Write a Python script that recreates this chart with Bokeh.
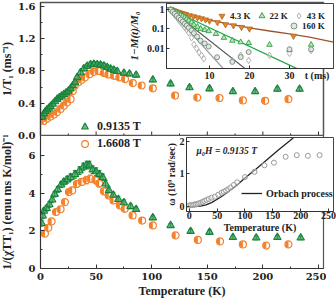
import math
from bokeh.plotting import figure
from bokeh.models import (ColumnDataSource, Range1d, FixedTicker, Whisker, TeeHead,
                          Legend, LegendItem, Label, CustomJSTickFormatter, NumeralTickFormatter)
from bokeh.layouts import column
from bokeh.embed import file_html
from bokeh.resources import INLINE

# ---------------- data: main panels ----------------
temp_top_a = [1.5, 3, 4.5, 6, 7.5, 9, 11, 13, 15, 17, 19, 21, 23, 25, 27, 29, 31, 33, 36, 39, 42,
              45, 48, 51, 54, 57, 60, 63, 66, 69, 75, 80, 86, 101, 117, 134, 152, 173, 193, 213, 233]
rate_top_a = [0.23, 0.27, 0.30, 0.32, 0.34, 0.36, 0.39, 0.42, 0.45, 0.47, 0.49, 0.51, 0.53, 0.55,
              0.58, 0.62, 0.66, 0.72, 0.78, 0.83, 0.86, 0.88, 0.885, 0.88, 0.875, 0.865, 0.845,
              0.825, 0.81, 0.795, 0.775, 0.765, 0.75, 0.69, 0.64, 0.595, 0.58, 0.545, 0.545, 0.575, 0.575]
err_top_a = [0.02, 0.02, 0.02, 0.02, 0.02, 0.02, 0.02, 0.02, 0.02, 0.02, 0.02, 0.02, 0.02, 0.02,
             0.025, 0.025, 0.025, 0.025, 0.03, 0.03, 0.03, 0.03, 0.03, 0.03, 0.03, 0.03, 0.03,
             0.03, 0.03, 0.03, 0.025, 0.025, 0.025, 0.025, 0.025, 0.025, 0.025, 0.025, 0.025, 0.025, 0.025]

temp_top_b = [3, 6, 9, 12, 15, 18, 21, 24, 27, 29, 31, 34, 37, 40, 44, 48, 52, 57, 61, 66, 71, 76,
              83, 91, 101, 121, 141, 161, 182, 202, 223]
rate_top_b = [0.18, 0.21, 0.235, 0.26, 0.29, 0.33, 0.37, 0.41, 0.45, 0.55, 0.62, 0.66, 0.69, 0.72,
              0.76, 0.79, 0.80, 0.775, 0.755, 0.74, 0.72, 0.70, 0.65, 0.62, 0.585, 0.495, 0.47,
              0.465, 0.435, 0.43, 0.45]
err_top_b = [0.015, 0.015, 0.015, 0.015, 0.015, 0.02, 0.02, 0.02, 0.02, 0.02, 0.02, 0.02, 0.02,
             0.02, 0.02, 0.02, 0.02, 0.02, 0.02, 0.02, 0.02, 0.02, 0.02, 0.02, 0.02, 0.02, 0.02,
             0.02, 0.02, 0.02, 0.02]

temp_bot_a = [1.0, 2.0, 3.0, 5.5, 8, 10.5, 12.7, 15.5, 18.5, 21, 24, 27, 31, 35, 38.5, 41.5, 44,
              47, 50, 53, 56, 58.5, 61.5, 65.5, 70, 75, 81, 86, 101, 117, 135, 152, 173, 194, 213, 234]
chi_bot_a = [2.4, 2.8, 3.05, 3.2, 3.4, 3.65, 3.95, 4.2, 4.45, 4.6, 4.72, 4.85, 5.0, 5.2, 5.4, 5.5,
             5.5, 5.25, 5.15, 5.0, 4.85, 4.5, 4.15, 3.9, 3.68, 3.5, 3.3, 3.15, 2.7, 2.29, 1.98,
             1.93, 1.66, 1.63, 1.66, 1.63]
err_bot_a = [0.15, 0.15, 0.15, 0.15, 0.15, 0.15, 0.15, 0.15, 0.15, 0.15, 0.18, 0.18, 0.2, 0.2,
             0.2, 0.2, 0.2, 0.2, 0.2, 0.2, 0.18, 0.18, 0.18, 0.15, 0.15, 0.15, 0.12, 0.12, 0.1,
             0.1, 0.1, 0.1, 0.1, 0.1, 0.1, 0.1]

temp_bot_b = [4, 7, 10, 14, 18, 22, 25.6, 28.5, 32.8, 37, 41.4, 44.8, 49.4, 52.8, 57, 61.4, 65.7,
              71.4, 75.7, 82.8, 91.4, 101, 121.5, 141.5, 161.5, 182, 203, 223]
chi_bot_b = [1.85, 2.16, 2.5, 3.0, 3.15, 3.53, 4.06, 4.15, 4.5, 4.6, 4.7, 4.77, 4.7, 4.52, 4.1,
             3.88, 3.62, 3.35, 3.17, 2.82, 2.55, 2.29, 1.76, 1.52, 1.44, 1.28, 1.22, 1.28]
err_bot_b = [0.12, 0.12, 0.12, 0.12, 0.12, 0.15, 0.15, 0.15, 0.18, 0.18, 0.2, 0.2, 0.2, 0.2,
             0.18, 0.15, 0.15, 0.15, 0.12, 0.12, 0.1, 0.1, 0.08, 0.08, 0.08, 0.08, 0.08, 0.08]

series_labels = ["0.9135 T", "1.6608 T"]

x_ticks = [0, 50, 100, 150, 200, 250]
x_minor = [25, 75, 125, 175, 225]
top_ticks = [0.0, 0.4, 0.8, 1.2, 1.6]
top_minor = [0.2, 0.6, 1.0, 1.4]
bot_ticks = [0, 2, 4, 6]
bot_minor = [1, 3, 5]

# ---------------- data: inset 1 (recovery curves) ----------------
t_43 = [0.2, 0.6, 1.0, 1.5, 2.0, 2.5, 3.0, 3.5, 4.0, 5.0, 6.0, 7.0, 8.0, 9.0, 10.0, 12.0, 14.0,
        16.0, 18.0, 20.0, 31.0]
m_43 = [0.98, 0.91, 0.84, 0.78, 0.71, 0.66, 0.61, 0.57, 0.54, 0.47, 0.42, 0.37, 0.33, 0.29, 0.25,
        0.21, 0.165, 0.145, 0.12, 0.1, 0.043]
fit_t_43 = [0, 2, 5, 10, 15, 20, 25, 30, 35, 41]
fit_m_43 = [1.0, 0.7, 0.47, 0.27, 0.17, 0.11, 0.077, 0.055, 0.038, 0.021]

t_22 = [0.3, 0.8, 1.3, 1.8, 2.3, 2.8, 3.3, 3.8, 4.3, 4.8, 5.5, 6.1, 7.0, 7.8, 8.8, 9.8, 11.6,
        13.6, 15.7, 17.8, 19.8, 25, 30, 35.4]
m_22 = [0.95, 0.85, 0.74, 0.66, 0.575, 0.5, 0.44, 0.38, 0.32, 0.26, 0.21, 0.16, 0.126, 0.1,
        0.087, 0.076, 0.055, 0.035, 0.025, 0.021, 0.019, 0.0155, 0.0085, 0.0155]
fit_t_22 = [0, 32]
fit_m_22 = [1.0, 0.00093]

t_43k = [0.3, 0.8, 1.3, 1.8, 2.3, 2.8, 3.3, 3.8, 4.3, 4.8, 5.5, 6.1, 6.8, 7.4, 8.0, 8.6, 15.7,
         17.8, 19.8, 25, 30, 35.4]
m_43k = [0.89, 0.66, 0.5, 0.38, 0.28, 0.21, 0.16, 0.117, 0.089, 0.063, 0.035, 0.016, 0.01,
         0.0063, 0.0045, 0.003, 0.0024, 0.0045, 0.0025, 0.0045, 0.0056, 0.0079]
fit_t_43k = [0, 13.5]
fit_m_43k = [1.0, 0.00093]

t_160 = [0.3, 0.8, 1.3, 1.8, 2.3, 2.8, 3.3, 3.8, 4.3, 4.8, 5.5, 6.1, 6.9, 7.75, 8.8, 9.8, 11.9,
         15.7, 17.8, 19.8, 30, 35.4]
m_160 = [0.91, 0.72, 0.575, 0.46, 0.36, 0.29, 0.23, 0.18, 0.145, 0.112, 0.083, 0.06, 0.04,
         0.025, 0.018, 0.0126, 0.0036, 0.0021, 0.0037, 0.0066, 0.0091, 0.0091]
fit_t_160 = [0, 19]
fit_m_160 = [1.0, 0.00093]

inset1_labels = ["4.3 K", "22 K", "43 K", "160 K"]
inset1_xticks = [10, 20, 30]
inset1_xlabel_pos = [36.9]   # where the "t (ms)" axis title sits in the tick-label row
inset1_yticks = [0.01, 0.1, 1]

# ---------------- data: inset 2 (omega vs T) ----------------
temp_w = [0, 3, 6, 9, 12, 15, 18, 21, 24, 27, 31, 35, 40, 46, 52, 58, 62, 66, 70, 74, 80, 86,
          100, 117, 135, 152, 173, 193, 213, 234]
omega_w = [0.03, 0.04, 0.05, 0.06, 0.07, 0.08, 0.10, 0.12, 0.14, 0.17, 0.20, 0.23, 0.27, 0.30,
           0.36, 0.42, 0.45, 0.49, 0.53, 0.58, 0.66, 0.74, 0.90, 1.06, 1.26, 1.34, 1.52, 1.57,
           1.55, 1.57]
temp_orb = [0, 10, 20, 30, 40, 50, 60, 70, 80, 90, 100, 120, 140, 160, 180, 187]
omega_orb = [0.0, 0.0, 0.01, 0.05, 0.12, 0.22, 0.33, 0.45, 0.58, 0.72, 0.87, 1.15, 1.44, 1.73,
             2.0, 2.1]
inset2_xticks = [0, 50, 100, 150, 200, 250]
inset2_yticks = [0, 1, 2]

# ---------------- style ----------------
SERIF = "Liberation Serif"
TICKF = "DejaVu Serif"
DARK = "#222222"
AXC = "#333333"
G_LINE = "#17833a"
G_FILL = "#2f9a52"
O_COL = "#f3802a"


def style_axis(ax, font, size, standoff, tin=4, mtin=2):
    ax.axis_line_color = AXC
    ax.major_tick_line_color = AXC
    ax.minor_tick_line_color = AXC
    ax.major_tick_in = tin
    ax.major_tick_out = 0
    ax.minor_tick_in = mtin
    ax.minor_tick_out = 0
    ax.major_label_text_font = font
    ax.major_label_text_font_style = "bold"
    ax.major_label_text_font_size = size
    ax.major_label_text_color = DARK
    ax.major_label_standoff = standoff
    ax.axis_label_text_font = SERIF
    ax.axis_label_text_font_style = "bold"
    ax.axis_label_text_color = DARK


def base_fig(w, h, xr, yr, l, r, t, b, **kw):
    p = figure(width=w, height=h, x_range=xr, y_range=yr, output_backend="svg",
               toolbar_location=None, min_border_left=l, min_border_right=r,
               min_border_top=t, min_border_bottom=b, **kw)
    p.xgrid.grid_line_color = None
    p.ygrid.grid_line_color = None
    return p


xr = Range1d(0, 254.5)

# ---------------- top panel ----------------
# canvas at left=-10, so frame spans x 38..335 ; frame y 2..135
p1 = base_fig(346, 147, xr, Range1d(0, 1.649), 48, 1, 2, 12)
p1.border_fill_color = None
p1.outline_line_color = "#555555"
p1.outline_line_width = 1.5
p1.xaxis.visible = False
style_axis(p1.yaxis[0], TICKF, "10px", 5)
p1.yaxis.ticker = FixedTicker(ticks=top_ticks, minor_ticks=top_minor)
p1.yaxis.formatter = NumeralTickFormatter(format="0.0")
p1.yaxis.axis_label = "1/T\u2081 (ms\u207b\u00b9)"
p1.yaxis.axis_label_text_font_size = "12px"
p1.yaxis.axis_label_standoff = 1

# inward tick marks on the shared boundary between the two panels
p1.segment(x0=x_ticks, y0=[0] * len(x_ticks), x1=x_ticks, y1=[0.05] * len(x_ticks),
           line_color=AXC, line_width=1)
p1.segment(x0=x_minor, y0=[0] * len(x_minor), x1=x_minor, y1=[0.026] * len(x_minor),
           line_color=AXC, line_width=1)

sa = ColumnDataSource(dict(T=temp_top_a, v=rate_top_a,
                           hi=[v + e for v, e in zip(rate_top_a, err_top_a)],
                           lo=[v - e for v, e in zip(rate_top_a, err_top_a)]))
sb = ColumnDataSource(dict(T=temp_top_b, v=rate_top_b,
                           hi=[v + e for v, e in zip(rate_top_b, err_top_b)],
                           lo=[v - e for v, e in zip(rate_top_b, err_top_b)]))


def draw_series(p, src_a, src_b):
    p.add_layout(Whisker(source=src_b, base="T", upper="hi", lower="lo", line_color=O_COL,
                         line_width=1,
                         upper_head=TeeHead(size=4, line_color=O_COL, line_width=1),
                         lower_head=TeeHead(size=4, line_color=O_COL, line_width=1)))
    p.add_layout(Whisker(source=src_a, base="T", upper="hi", lower="lo", line_color=G_LINE,
                         line_width=1,
                         upper_head=TeeHead(size=4, line_color=G_LINE, line_width=1),
                         lower_head=TeeHead(size=4, line_color=G_LINE, line_width=1)))
    rb_open = p.scatter(x="T", y="v", source=src_b, marker="circle", size=7,
                        fill_color="white", line_color=O_COL, line_width=1.2)
    p.wedge(x="T", y="v", source=src_b, radius=3.2, radius_units="screen",
            start_angle=math.pi / 2, end_angle=3 * math.pi / 2,
            fill_color=O_COL, line_color=None)
    ra = p.scatter(x="T", y="v", source=src_a, marker="triangle", size=7.5,
                   fill_color=G_FILL, fill_alpha=0.7, line_color=G_LINE, line_width=1.1)
    return ra, rb_open


ra1, rb1 = draw_series(p1, sa, sb)
leg1 = Legend(items=[LegendItem(label=series_labels[0], renderers=[ra1])],
              location=(36, 0), padding=0, margin=0, spacing=0, glyph_width=17,
              glyph_height=17, label_standoff=4, label_height=12,
              border_line_color=None, background_fill_alpha=0,
              label_text_font=SERIF, label_text_font_style="bold",
              label_text_font_size="12px", label_text_color=DARK)
p1.add_layout(leg1)

# ---------------- bottom panel ----------------
# canvas at left=-10, top=135 ; frame spans y 135..268
p2 = base_fig(346, 173, xr, Range1d(0, 7.07), 48, 1, 0, 40)
p2.border_fill_color = None
p2.outline_line_color = "#555555"
p2.outline_line_width = 1.2
style_axis(p2.xaxis[0], TICKF, "10px", 4)
p2.xaxis.ticker = FixedTicker(ticks=x_ticks, minor_ticks=x_minor)
p2.xaxis.axis_label = "Temperature (K)"
p2.xaxis.axis_label_text_font_size = "12px"
p2.xaxis.axis_label_standoff = 1
style_axis(p2.yaxis[0], TICKF, "10px", 5)
p2.yaxis.ticker = FixedTicker(ticks=bot_ticks, minor_ticks=bot_minor)
p2.yaxis.axis_label = "1/(\u03c7TT\u2081) (emu ms K/mol)\u207b\u00b9"
p2.yaxis.axis_label_text_font_size = "12px"
p2.yaxis.axis_label_standoff = 12

sc = ColumnDataSource(dict(T=temp_bot_a, v=chi_bot_a,
                           hi=[v + e for v, e in zip(chi_bot_a, err_bot_a)],
                           lo=[v - e for v, e in zip(chi_bot_a, err_bot_a)]))
sd = ColumnDataSource(dict(T=temp_bot_b, v=chi_bot_b,
                           hi=[v + e for v, e in zip(chi_bot_b, err_bot_b)],
                           lo=[v - e for v, e in zip(chi_bot_b, err_bot_b)]))
ra2, rb2 = draw_series(p2, sc, sd)
leg2 = Legend(items=[LegendItem(label=series_labels[1], renderers=[rb2])],
              location=(36, 116), padding=0, margin=0, spacing=0, glyph_width=17,
              glyph_height=17, label_standoff=4, label_height=12,
              border_line_color=None, background_fill_alpha=0,
              label_text_font=SERIF, label_text_font_style="bold",
              label_text_font_size="12px", label_text_color=DARK)
p2.add_layout(leg2)

# ---------------- inset 1 ----------------
# canvas at left=116, top=0 ; frame x 166..333, y 3..68
ins1 = base_fig(220, 88, Range1d(-0.75, 41.0), Range1d(0.00097, 1.9), 50, 3, 3, 20,
                y_axis_type="log")
ins1.border_fill_color = None
ins1.background_fill_color = "white"
ins1.outline_line_color = "#444444"
style_axis(ins1.xaxis[0], SERIF, "10px", 1, tin=0, mtin=3)
ins1.xaxis.ticker = FixedTicker(ticks=inset1_xticks + inset1_xlabel_pos, minor_ticks=inset1_xticks)
ins1.xaxis.formatter = CustomJSTickFormatter(code="return tick > 35 ? 't (ms)' : String(tick);")
style_axis(ins1.yaxis[0], SERIF, "10px", 2, tin=3)
ins1.yaxis.ticker = FixedTicker(ticks=inset1_yticks)
ins1.yaxis.formatter = CustomJSTickFormatter(code="return String(tick);")
ins1.yaxis.axis_label = "1\u2212M(t)/M\u2080"
ins1.yaxis.axis_label_text_font_size = "11px"
ins1.yaxis.axis_label_text_font_style = "bold italic"
ins1.yaxis.axis_label_standoff = 4

ins1.line(fit_t_43, fit_m_43, line_color="#a0522d", line_width=1.3)
ins1.line(fit_t_22, fit_m_22, line_color="#1fa84a", line_width=1.3)
ins1.line(fit_t_43k, fit_m_43k, line_color="#9a9a9a", line_width=1.2)
ins1.line(fit_t_160, fit_m_160, line_color="#555555", line_width=1.2)
r43 = ins1.scatter(t_43, m_43, marker="inverted_triangle", size=6, fill_color="#e08a30",
                   line_color="#b8651f", line_width=0.8)
r22 = ins1.scatter(t_22, m_22, marker="triangle", size=5.5, fill_color="#b8e6b8",
                   line_color="#2ea043", line_width=0.9)
r43k = ins1.scatter(t_43k, m_43k, marker="diamond", size=6.5, fill_color="white",
                    fill_alpha=0.3, line_color="#a8a8a8", line_width=0.9)
r160 = ins1.scatter(t_160, m_160, marker="circle", size=5, fill_color="#dfe8df",
                    line_color="#74887a", line_width=0.9)

leg_kw = dict(padding=0, margin=0, spacing=3, glyph_width=15, glyph_height=15,
              label_standoff=1, label_height=10, label_width=10, border_line_color=None,
              background_fill_alpha=0, label_text_font=SERIF, label_text_font_style="bold",
              label_text_font_size="9px", label_text_color=DARK, orientation="horizontal")
legA = Legend(items=[LegendItem(label=inset1_labels[0], renderers=[r43]),
                     LegendItem(label=inset1_labels[1], renderers=[r22]),
                     LegendItem(label=inset1_labels[2], renderers=[r43k])],
              location=(48, 45), **leg_kw)
legB = Legend(items=[LegendItem(label=inset1_labels[3], renderers=[r160])],
              location=(120, 35), **leg_kw)
ins1.add_layout(legA)
ins1.add_layout(legB)

# ---------------- inset 2 ----------------
# canvas at left=136, top=135 ; frame x 176..333, y 137..211
ins2 = base_fig(200, 106, Range1d(-5, 259), Range1d(-0.153, 2.11), 40, 3, 2, 30)
ins2.border_fill_color = None
ins2.background_fill_color = "white"
ins2.outline_line_color = "#444444"
style_axis(ins2.xaxis[0], SERIF, "10px", 0, tin=3)
ins2.xaxis.ticker = FixedTicker(ticks=inset2_xticks)
ins2.xaxis.axis_label = "Temperature (K)"
ins2.xaxis.axis_label_text_font_size = "10px"
ins2.xaxis.axis_label_standoff = 0
style_axis(ins2.yaxis[0], SERIF, "10px", 2, tin=3)
ins2.yaxis.ticker = FixedTicker(ticks=inset2_yticks)
ins2.yaxis.axis_label = "\u03c9 (10\u2079 rad/sec)"
ins2.yaxis.axis_label_text_font_size = "10px"
ins2.yaxis.axis_label_standoff = 0

r_orb = ins2.line(temp_orb, omega_orb, line_color="#222222", line_width=1.3)
ins2.scatter(temp_w, omega_w, marker="circle", size=5, fill_color="white", fill_alpha=0.4,
             line_color="#999999", line_width=1)
leg3 = Legend(items=[LegendItem(label="Orbach process", renderers=[r_orb])],
              location=(55, 12), padding=0, margin=0, glyph_width=21, glyph_height=12,
              label_standoff=4, label_height=10, border_line_color=None,
              background_fill_alpha=0, label_text_font=SERIF, label_text_font_style="bold",
              label_text_font_size="10px", label_text_color=DARK)
ins2.add_layout(leg3)
ins2.add_layout(Label(x=13, y=1.71, text="\u03bc\u2080H = 0.9135 T", text_font=SERIF,
                      text_font_style="bold italic", text_font_size="9.5px", text_color=DARK,
                      text_baseline="middle", text_align="left"))

# ---------------- layout ----------------
for fig, left, top in [(p1, -10, 0), (p2, -10, 135), (ins1, 116, 0), (ins2, 136, 135)]:
    fig.styles = {"position": "absolute", "left": f"{left}px", "top": f"{top}px"}

root = column(p1, p2, ins1, ins2, width=336, height=299,
              styles={"position": "relative", "overflow": "hidden"})

open("out.html", "w").write(file_html(root, INLINE))
